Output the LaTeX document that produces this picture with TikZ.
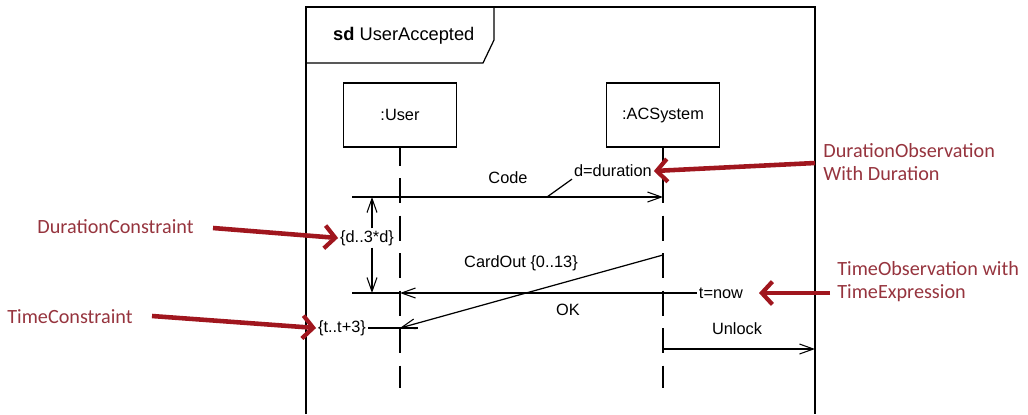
\documentclass[tikz,border=0pt]{standalone}
\usepackage{fontspec}
\setmainfont{Liberation Sans}
\newfontfamily\notefont{Carlito}
\usetikzlibrary{arrows.meta}
\definecolor{notetext}{RGB}{150,52,62}
\definecolor{notearrow}{RGB}{160,22,30}
\tikzset{
  lifebox/.style={draw, line width=0.7pt, minimum width=2.26cm, minimum height=1.28cm, font=\fontsize{9.3}{11}\selectfont},
  lifeline/.style={line width=0.7pt, dash pattern=on 0.5cm off 0.25cm, dash phase=0.14cm},
  msg/.style={line width=0.7pt, -{Straight Barb[length=0.28cm, width=0.2cm, line width=0.6pt]}},
  plain/.style={line width=0.7pt},
  lbl/.style={inner sep=1pt, font=\fontsize{9.3}{11}\selectfont},
  note/.style={inner sep=0pt, text=notetext, align=left, font=\notefont\fontsize{11.5}{13}\selectfont},
  notearr/.style={draw=notearrow, line width=2.6pt, -{Straight Barb[length=6pt, width=13pt, line width=2.4pt]}}
}
\begin{document}
\begin{tikzpicture}[x=0.02cm, y=-0.02cm]
                    \useasboundingbox (0,0) rectangle (1028,414);
                    {
                    % Frame of the interaction
                    \draw [plain] (306,414) -- (306,7) -- (815,7) -- (815,414);%
                    \draw [plain] (306,63) -- (483,63) -- (494,40) -- (494,7);%
                    \node (title) [anchor=west, font=\fontsize{10.4}{12}\selectfont] at (327,36) {\textbf{sd} UserAccepted};%
                    
                    % Lifeline User
                    \node (user) [lifebox] at (400,115) {:User};%
                    \coordinate (userEnd) at (400,388);%
                    \draw [lifeline] (user.south) -- (userEnd);%
                    
                    % Lifeline ACSystem
                    \node (acs) [lifebox] at (663,115) {:ACSystem};%
                    \coordinate (acsEnd) at (663,388);%
                    \draw [lifeline] (acs.south) -- (acsEnd);%
                    
                    % Message Code
                    \coordinate (codeL) at (352,197);%
                    \coordinate (codeR) at (663,197);%
                    \draw [msg] (codeL) -- (codeR);%
                    \node (code) [lbl] at (508,178) {Code};%
                    
                    % Duration observation d=duration
                    \node (dobs) [lbl, anchor=west] at (572,171) {d=duration};%
                    \coordinate (dobsFoot) at (547,197);%
                    \draw [plain] (dobsFoot) -- (dobs.south west);%
                    
                    % Duration constraint between Code and OK
                    \node (dcon) [lbl] at (367,238) {\{d..3*d\}};%
                    \coordinate (dTop) at (372,197);%
                    \coordinate (dBot) at (372,293);%
                    \draw [msg] (dTop |- dcon.north) -- (dTop);%
                    \draw [msg] (dBot |- dcon.south) -- (dBot);%
                    
                    % Message CardOut
                    \coordinate (cardS) at (663,255);%
                    \coordinate (cardE) at (400,328);%
                    \draw [msg] (cardS) -- (cardE);%
                    \node (card) [lbl] at (521,263) {CardOut \{0..13\}};%
                    
                    % Message OK with time observation t=now
                    \node (tnow) [lbl] at (721,293) {t=now};%
                    \coordinate (okTip) at (400,293);%
                    \coordinate (okL) at (352,293);%
                    \draw [msg] (tnow.west) -- (okTip);%
                    \draw [plain] (okTip) -- (okL);%
                    \node (ok) [lbl] at (568,310) {OK};%
                    
                    % Time constraint {t..t+3}
                    \node (tcon) [lbl] at (342,328) {\{t..t+3\}};%
                    \coordinate (tconR) at (418,328);%
                    \draw [plain] (tcon.east) -- (tconR);%
                    
                    % Message Unlock
                    \coordinate (unlS) at (663,349);%
                    \coordinate (unlE) at (815,349);%
                    \draw [msg] (unlS) -- (unlE);%
                    \node (unlock) [lbl] at (737,329) {Unlock};%
                    
                    % Note DurationObservation With Duration
                    \node (nDobs) [note, anchor=west] at (823,162) {DurationObservation\\With Duration};%
                    \coordinate (nDobsTail) at (815,163);%
                    \draw [notearr] (nDobsTail) -- (dobs.east);%
                    
                    % Note TimeObservation with TimeExpression
                    \node (nTobs) [note, anchor=west] at (837,282) {TimeObservation with\\TimeExpression};%
                    \coordinate (nTobsTail) at (830,293);%
                    \coordinate (nTobsTip) at (759,293);%
                    \draw [notearr] (nTobsTail) -- (nTobsTip);%
                    
                    % Note DurationConstraint
                    \node (nDcon) [note, anchor=west] at (37,227) {DurationConstraint};%
                    \coordinate (nDconTail) at (213,228);%
                    \draw [notearr] (nDconTail) -- (dcon.west);%
                    
                    % Note TimeConstraint
                    \node (nTcon) [note, anchor=west] at (7,317) {TimeConstraint};%
                    \coordinate (nTconTail) at (152,316);%
                    \draw [notearr] (nTconTail) -- (tcon.west);%
                    }
\end{tikzpicture}
\end{document}
